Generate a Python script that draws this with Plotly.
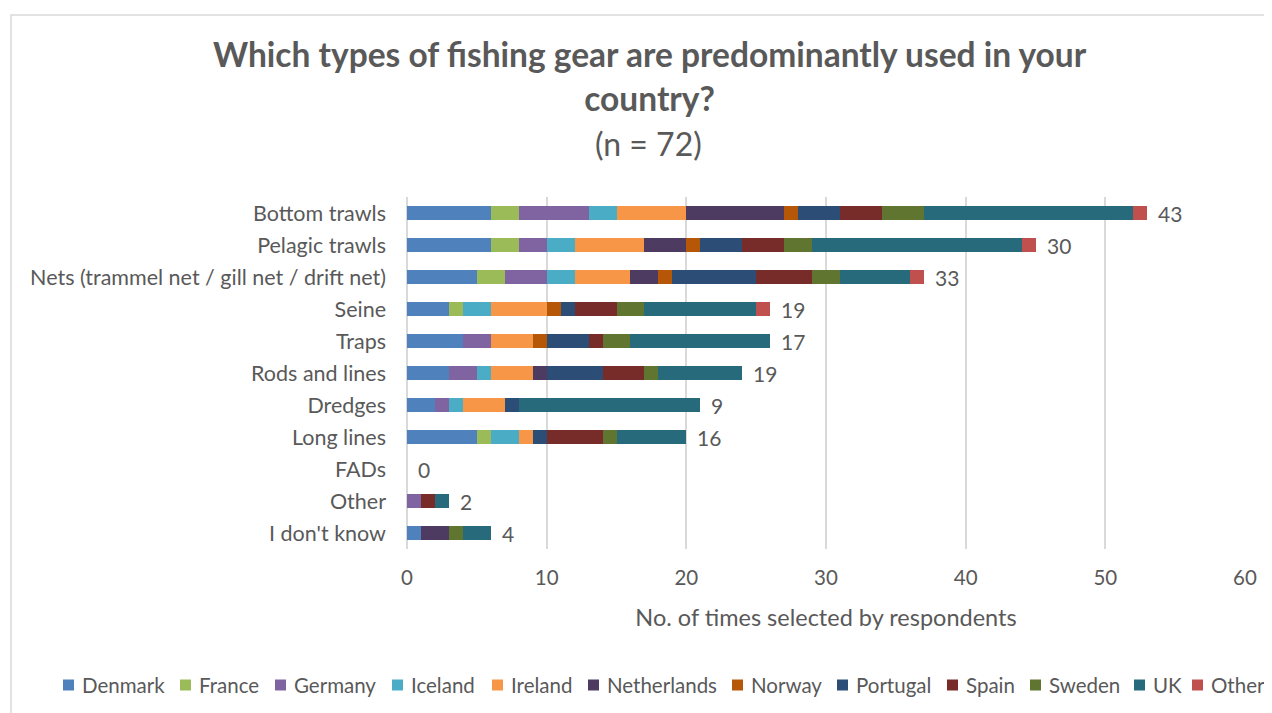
import plotly.graph_objects as go

# gear categories (top to bottom)
gears = ['Bottom trawls', 'Pelagic trawls', 'Nets (trammel net / gill net / drift net)',
         'Seine', 'Traps', 'Rods and lines', 'Dredges', 'Long lines', 'FADs', 'Other',
         "I don't know"]

# counts per country, same order as gears
denmark     = [6, 6, 5, 3, 4, 3, 2, 5, 0, 0, 1]
france      = [2, 2, 2, 1, 0, 0, 0, 1, 0, 0, 0]
germany     = [5, 2, 3, 0, 2, 2, 1, 0, 0, 1, 0]
iceland     = [2, 2, 2, 2, 0, 1, 1, 2, 0, 0, 0]
ireland     = [5, 5, 4, 4, 3, 3, 3, 1, 0, 0, 0]
netherlands = [7, 3, 2, 0, 0, 1, 0, 0, 0, 0, 2]
norway      = [1, 1, 1, 1, 1, 0, 0, 0, 0, 0, 0]
portugal    = [3, 3, 6, 1, 3, 4, 1, 1, 0, 0, 0]
spain       = [3, 3, 4, 3, 1, 3, 0, 4, 0, 1, 0]
sweden      = [3, 2, 2, 2, 2, 1, 0, 1, 0, 0, 1]
uk          = [15, 15, 5, 8, 10, 6, 13, 5, 0, 1, 2]
other       = [1, 1, 1, 1, 0, 0, 0, 0, 0, 0, 0]

# data labels shown at the end of each bar
bar_labels = [43, 30, 33, 19, 17, 19, 9, 16, 0, 2, 4]

series = [
    ('Denmark', denmark, '#4F81BD'),
    ('France', france, '#9BBB59'),
    ('Germany', germany, '#8064A2'),
    ('Iceland', iceland, '#4BACC6'),
    ('Ireland', ireland, '#F79646'),
    ('Netherlands', netherlands, '#4D3B62'),
    ('Norway', norway, '#B65708'),
    ('Portugal', portugal, '#2C4D75'),
    ('Spain', spain, '#772C2A'),
    ('Sweden', sweden, '#5F7530'),
    ('UK', uk, '#276A7C'),
    ('Other', other, '#C0504D'),
]

# legend text left edges (page px), Excel-style compact legend
legend_x = [80, 197, 292, 409, 509, 605, 749, 854, 964, 1047, 1151, 1209]

TXT = '#595959'
FONT = 'Lato'

# page px -> paper coords (plot area spans x 407..1245, y 197..549 on the page)
def px(x):
    return (x - 407) / 838

def py(y):
    return (549 - y) / 352

fig = go.Figure()
for name, vals, color in series:
    fig.add_trace(go.Bar(
        y=gears, x=vals, name=name, orientation='h',
        marker=dict(color=color, line_width=0), showlegend=False,
    ))

# end-of-bar labels
totals = [sum(s[1][i] for s in series) for i in range(len(gears))]
for g, t, lab in zip(gears, totals, bar_labels):
    fig.add_annotation(x=t, y=g, text=str(lab), showarrow=False,
                       xanchor='left', xshift=9, yanchor='middle',
                       font=dict(size=21, color=TXT, family=FONT))

# title
fig.add_annotation(
    text='<b>Which types of fishing gear are predominantly used in your<br>country?</b>',
    xref='paper', yref='paper', x=px(650), y=py(76),
    xanchor='center', yanchor='middle', showarrow=False,
    font=dict(size=33.5, color=TXT, family=FONT),
)
fig.add_annotation(
    text='(n = 72)',
    xref='paper', yref='paper', x=px(648), y=py(144),
    xanchor='center', yanchor='middle', showarrow=False,
    font=dict(size=32, color=TXT, family=FONT),
)

# legend
for (name, vals, color), lx in zip(series, legend_x):
    fig.add_shape(type='rect', xref='paper', yref='paper',
                  x0=px(lx - 17), x1=px(lx - 6), y0=py(690.5), y1=py(679.5),
                  line_width=0, fillcolor=color)
    fig.add_annotation(text=name, xref='paper', yref='paper', x=px(lx), y=py(685),
                       xanchor='left', yanchor='middle', showarrow=False,
                       font=dict(size=20.5, color=TXT, family=FONT))

# chart area border
fig.add_shape(type='rect', xref='paper', yref='paper',
              x0=px(11), x1=2, y0=-2, y1=py(15),
              line=dict(color='#D9D9D9', width=1.5), fillcolor='rgba(0,0,0,0)')

fig.update_xaxes(
    range=[0, 60], dtick=10, showgrid=True, gridcolor='#D9D9D9', gridwidth=1.5,
    zeroline=True, zerolinecolor='#D9D9D9', zerolinewidth=1.5,
    tickfont=dict(size=20.5, color=TXT, family=FONT), ticklabelstandoff=14,
    title=dict(text='No. of times selected by respondents', standoff=22,
               font=dict(size=23.5, color=TXT, family=FONT)),
)
fig.update_yaxes(
    categoryorder='array', categoryarray=gears, autorange='reversed',
    tickfont=dict(size=21.5, color=TXT, family=FONT), ticklabelstandoff=20,
    showgrid=False,
)

# page has an 8px body margin, so the figure is offset by 8px
fig.update_layout(
    width=1264, height=705,
    barmode='stack', bargap=0.58,
    plot_bgcolor='white', paper_bgcolor='white',
    margin=dict(l=399, r=27, t=189, b=164),
    font=dict(family=FONT, color=TXT),
    showlegend=False,
)

fig.write_html('out.html')
